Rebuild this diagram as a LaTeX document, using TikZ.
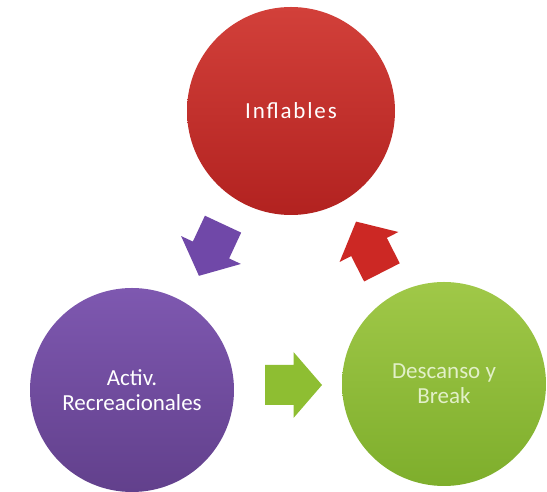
\documentclass[tikz,border=0pt]{standalone}
\usepackage{fontspec}
\setmainfont{Carlito}
\definecolor{redTop}{RGB}{210,64,58}
\definecolor{redBot}{RGB}{178,34,32}
\definecolor{purTop}{RGB}{126,88,176}
\definecolor{purBot}{RGB}{98,64,140}
\definecolor{grnTop}{RGB}{160,200,72}
\definecolor{grnBot}{RGB}{126,174,44}
\definecolor{arrPur}{RGB}{112,72,168}
\definecolor{arrRed}{RGB}{204,40,36}
\definecolor{arrGrn}{RGB}{142,190,50}
\definecolor{txtGrn}{RGB}{226,240,200}
\begin{document}
\begin{tikzpicture}[x=1pt,y=1pt,
  bubble/.style={circle, inner sep=0pt, minimum size=#1, align=center,
    text=white, font=\fontsize{23}{25}\selectfont},
  blockarrow/.pic={\path[pic actions] (-28.5,-20) -- (0,-20) -- (0,-33) -- (28.5,0)
      -- (0,33) -- (0,20) -- (-28.5,20) -- cycle;}]
\useasboundingbox (0,0) rectangle (547,492);
\fill[white] (0,0) rectangle (547,492);
% circles
\node[bubble=208pt, top color=redTop, bottom color=redBot,
  font=\fontsize{23}{25}\selectfont\addfontfeature{LetterSpace=8}] (inf) at (291,381) {Inflables};
\node[bubble=204pt, top color=purTop, bottom color=purBot] (act) at (132,102)
  {Activ.\\Recreacionales};
\node[bubble=204pt, top color=grnTop, bottom color=grnBot, text=txtGrn] (des) at (444,108)
  {Descanso y\\Break};
% block arrows
\coordinate (a1) at (211,242);
\coordinate (a2) at (293.5,107);
\coordinate (a3) at (369,245);
\pic[fill=arrPur, rotate=245] at (a1) {blockarrow};
\pic[fill=arrGrn] at (a2) {blockarrow};
\pic[fill=arrRed, rotate=117] at (a3) {blockarrow};
\end{tikzpicture}
\end{document}
